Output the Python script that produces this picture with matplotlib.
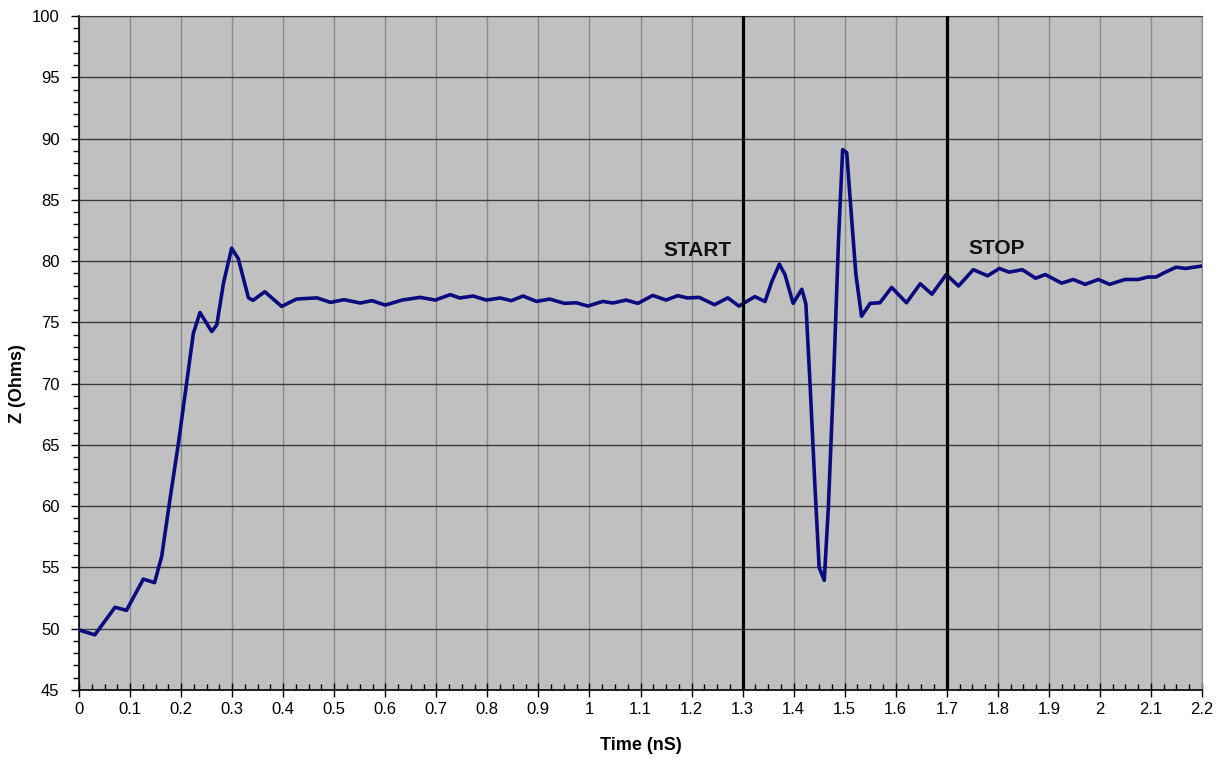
import matplotlib
matplotlib.use("Agg")
import matplotlib.pyplot as plt
from matplotlib.ticker import MultipleLocator, FuncFormatter

time_ns = [0.0, 0.031, 0.0705, 0.093, 0.126, 0.148, 0.162, 0.178, 0.195, 0.211, 0.224, 0.237,
           0.26, 0.27, 0.283, 0.299, 0.312, 0.332, 0.341, 0.364, 0.397, 0.426, 0.466, 0.493,
           0.519, 0.551, 0.574, 0.60, 0.633, 0.668, 0.698, 0.727, 0.746, 0.772, 0.798, 0.825,
           0.847, 0.870, 0.896, 0.922, 0.951, 0.974, 0.997, 1.026, 1.046, 1.072, 1.095, 1.124,
           1.150, 1.173, 1.192, 1.215, 1.245, 1.271, 1.293, 1.324, 1.344, 1.357, 1.372, 1.383,
           1.399, 1.416, 1.424, 1.432, 1.442, 1.450, 1.460, 1.468, 1.478, 1.488, 1.496, 1.504,
           1.514, 1.522, 1.533, 1.550, 1.569, 1.592, 1.621, 1.648, 1.671, 1.699, 1.723, 1.752,
           1.780, 1.803, 1.822, 1.848, 1.874, 1.893, 1.925, 1.948, 1.971, 1.997, 2.019, 2.049,
           2.075, 2.094, 2.110, 2.126, 2.149, 2.168, 2.2]
impedance = [49.9, 49.5, 51.75, 51.5, 54.05, 53.76, 55.9, 60.5, 65.2, 70.1, 74.1, 75.8,
             74.25, 74.8, 78.2, 81.05, 80.2, 77.0, 76.8, 77.5, 76.3, 76.9, 77.0, 76.63,
             76.85, 76.58, 76.77, 76.41, 76.82, 77.04, 76.82, 77.26, 76.99, 77.15, 76.82, 76.99,
             76.77, 77.15, 76.71, 76.9, 76.55, 76.6, 76.33, 76.71, 76.58, 76.82, 76.55, 77.2,
             76.82, 77.18, 76.99, 77.04, 76.44, 77.0, 76.33, 77.1, 76.7, 78.3, 79.75, 78.9,
             76.55, 77.7, 76.5, 70.1, 61.4, 55.0, 53.95, 59.9, 70.1, 81.8, 89.1, 88.85,
             83.25, 78.9, 75.5, 76.55, 76.6, 77.85, 76.6, 78.15, 77.3, 78.9, 77.97, 79.3,
             78.8, 79.4, 79.1, 79.3, 78.6, 78.9, 78.2, 78.5, 78.1, 78.5, 78.1, 78.5,
             78.5, 78.7, 78.7, 79.05, 79.5, 79.4, 79.6]

markers_x = [1.3, 1.7]
markers_label = ["START", "STOP"]
label_pos = [(1.2125, 80.88), (1.797, 81.0)]

plt.rcParams['font.family'] = ['Liberation Sans', 'DejaVu Sans']

fig = plt.figure(figsize=(12.25, 7.58), dpi=100)
ax = fig.add_axes([79/1225, 1-690/758, (1202-79)/1225, (690-16)/758])
ax.set_facecolor('#C0C0C0')

ax.set_xlim(0, 2.2)
ax.set_ylim(45, 100)
ax.xaxis.set_major_locator(MultipleLocator(0.1))
ax.xaxis.set_minor_locator(MultipleLocator(0.025))
ax.yaxis.set_major_locator(MultipleLocator(5))
ax.yaxis.set_minor_locator(MultipleLocator(1))
ax.xaxis.set_major_formatter(FuncFormatter(lambda v, p: f"{v:.1f}".rstrip('0').rstrip('.') if abs(v) > 1e-9 else "0"))

ax.grid(True, axis='x', which='major', color='#8a8a8a', lw=1.0)
ax.grid(True, axis='y', which='major', color='#3c3c3c', lw=1.0)
ax.set_axisbelow(True)

ax.plot(time_ns, impedance, color='#0B0B80', lw=2.6, solid_joinstyle='round',
        solid_capstyle='round', zorder=3)

for xv in markers_x:
    ax.axvline(xv, color='black', lw=2.3, zorder=4)
for (xl, yl), txt in zip(label_pos, markers_label):
    ax.text(xl, yl, txt, ha='center', va='center', fontsize=15, fontweight='bold', color='#111111')

ax.tick_params(axis='x', which='major', direction='inout', length=10, width=1, labelsize=12, pad=4)
ax.tick_params(axis='x', which='minor', direction='in', length=4, width=1)
ax.tick_params(axis='y', which='major', direction='out', length=6, width=1, labelsize=12, pad=8)
ax.tick_params(axis='y', which='minor', direction='out', length=4, width=1)

for s in ['left', 'bottom']:
    ax.spines[s].set_color('black')
    ax.spines[s].set_linewidth(1.2)
ax.spines['top'].set_color('#3c3c3c')
ax.spines['right'].set_color('#8a8a8a')

ax.set_xlabel('Time (nS)', fontsize=13, fontweight='bold')
ax.xaxis.set_label_coords(0.5, (690-746)/674)
ax.xaxis.label.set_va('center')
ax.set_ylabel('Z (Ohms)', fontsize=13, fontweight='bold')
ax.yaxis.set_label_coords((18-79)/1123, (690-384)/674)
ax.yaxis.label.set_va('center')

fig.savefig('out.png', dpi=100)
